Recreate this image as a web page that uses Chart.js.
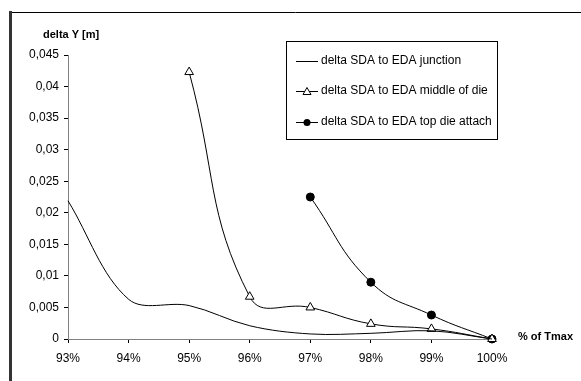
<!DOCTYPE html>
<html>
<head>
<meta charset="utf-8">
<script src="https://cdn.jsdelivr.net/npm/chart.js@4"></script>
<style>
  html, body { margin: 0; padding: 0; background: #fff; }
  #wrap { width: 581px; height: 381px; position: relative; }
</style>
</head>
<body>
<div id="wrap"><canvas id="chartDelta"></canvas></div>
<script>
// data
const junctionX = [93, 94, 95, 96, 97, 98, 99, 100];
const junctionY = [0.0219, 0.0063, 0.0053, 0.0021, 0.0008, 0.0009, 0.0013, 0];
const middleX = [95, 96, 97, 98, 99, 100];
const middleY = [0.0423, 0.0067, 0.0050, 0.0024, 0.0016, 0];
const topX = [97, 98, 99, 100];
const topY = [0.0225, 0.0090, 0.0038, 0];
const seriesNames = [
  'delta SDA to EDA junction',
  'delta SDA to EDA middle of die',
  'delta SDA to EDA top die attach'
];
const yTitle = 'delta Y [m]';
const xTitle = '% of Tmax';

const pts = (xs, ys) => xs.map((x, i) => ({ x: x, y: ys[i] }));

const FONT = 'Liberation Sans, Arial, sans-serif';

const framePlugin = {
  id: 'frame',
  beforeDraw(chart) {
    const c = chart.ctx;
    c.save();
    c.fillStyle = '#fff';
    c.fillRect(0, 0, chart.width, chart.height);
    c.strokeStyle = '#000';
    c.lineWidth = 1;
    c.beginPath();
    c.moveTo(10, 12.5);
    c.lineTo(chart.width, 12.5);
    c.stroke();
    c.strokeStyle = '#333';
    c.lineWidth = 3;
    c.beginPath();
    c.moveTo(10.5, 11);
    c.lineTo(10.5, chart.height);
    c.stroke();
    c.restore();
  },
  afterDraw(chart) {
    const c = chart.ctx;
    c.save();
    c.fillStyle = '#000';
    c.font = 'bold 11px ' + FONT;
    c.textBaseline = 'middle';
    c.textAlign = 'left';
    c.fillText(yTitle, 43, 35);
    c.fillText(xTitle, 518, 337);

    // legend box
    c.fillStyle = '#fff';
    c.fillRect(286, 41, 211, 98);
    c.strokeStyle = '#000';
    c.lineWidth = 1;
    c.strokeRect(286.5, 41.5, 211, 98);
    const rows = [61, 91, 122];
    chart.data.datasets.forEach((ds, i) => {
      const y = rows[i] + 0.5;
      c.strokeStyle = '#000';
      c.lineWidth = 1;
      c.beginPath();
      c.moveTo(296, y);
      c.lineTo(318, y);
      c.stroke();
      if (ds.pointStyle === 'triangle') {
        c.fillStyle = '#fff';
        c.beginPath();
        c.moveTo(307, y - 4);
        c.lineTo(311, y + 3);
        c.lineTo(303, y + 3);
        c.closePath();
        c.fill();
        c.stroke();
      } else if (ds.pointRadius > 0) {
        c.fillStyle = '#000';
        c.beginPath();
        c.arc(307, y, 3.5, 0, Math.PI * 2);
        c.fill();
      }
      c.fillStyle = '#000';
      c.font = '12px ' + FONT;
      c.textAlign = 'left';
      c.textBaseline = 'middle';
      c.fillText(ds.label, 321, rows[i]);
    });
    c.restore();
  }
};

new Chart(document.getElementById('chartDelta'), {
  type: 'line',
  data: {
    datasets: [
      {
        label: seriesNames[0],
        data: pts(junctionX, junctionY),
        borderColor: '#000',
        borderWidth: 1,
        pointRadius: 0,
        tension: 0.35,
        clip: false
      },
      {
        label: seriesNames[1],
        data: pts(middleX, middleY),
        borderColor: '#000',
        borderWidth: 1,
        pointStyle: 'triangle',
        pointRadius: 5,
        pointBackgroundColor: '#fff',
        pointBorderColor: '#000',
        pointBorderWidth: 1,
        tension: 0.45,
        clip: false
      },
      {
        label: seriesNames[2],
        data: pts(topX, topY),
        borderColor: '#000',
        borderWidth: 1,
        pointStyle: 'circle',
        pointRadius: 4,
        pointBackgroundColor: '#000',
        pointBorderColor: '#000',
        tension: 0.45,
        clip: false
      }
    ]
  },
  options: {
    responsive: true,
    maintainAspectRatio: false,
    animation: false,
    layout: { padding: { top: 55, right: 89, left: 0, bottom: 0 } },
    plugins: {
      legend: { display: false },
      tooltip: { enabled: false }
    },
    scales: {
      x: {
        type: 'linear',
        min: 93,
        max: 100,
        afterFit: (s) => { s.height = 42; },
        border: { color: '#808080', width: 1 },
        grid: { drawOnChartArea: false, tickLength: 4, color: '#000' },
        ticks: {
          stepSize: 1,
          color: '#000',
          padding: 8,
          font: { family: FONT, size: 12 },
          callback: (v) => v + '%'
        }
      },
      y: {
        min: 0,
        max: 0.045,
        afterFit: (s) => { s.width = 68; },
        border: { color: '#808080', width: 1 },
        grid: { drawOnChartArea: false, tickLength: 4, color: '#000' },
        ticks: {
          stepSize: 0.005,
          color: '#000',
          padding: 5,
          font: { family: FONT, size: 12 },
          callback: (v) => String(Math.round(v * 1000) / 1000).replace('.', ',')
        }
      }
    }
  },
  plugins: [framePlugin]
});
</script>
</body>
</html>
